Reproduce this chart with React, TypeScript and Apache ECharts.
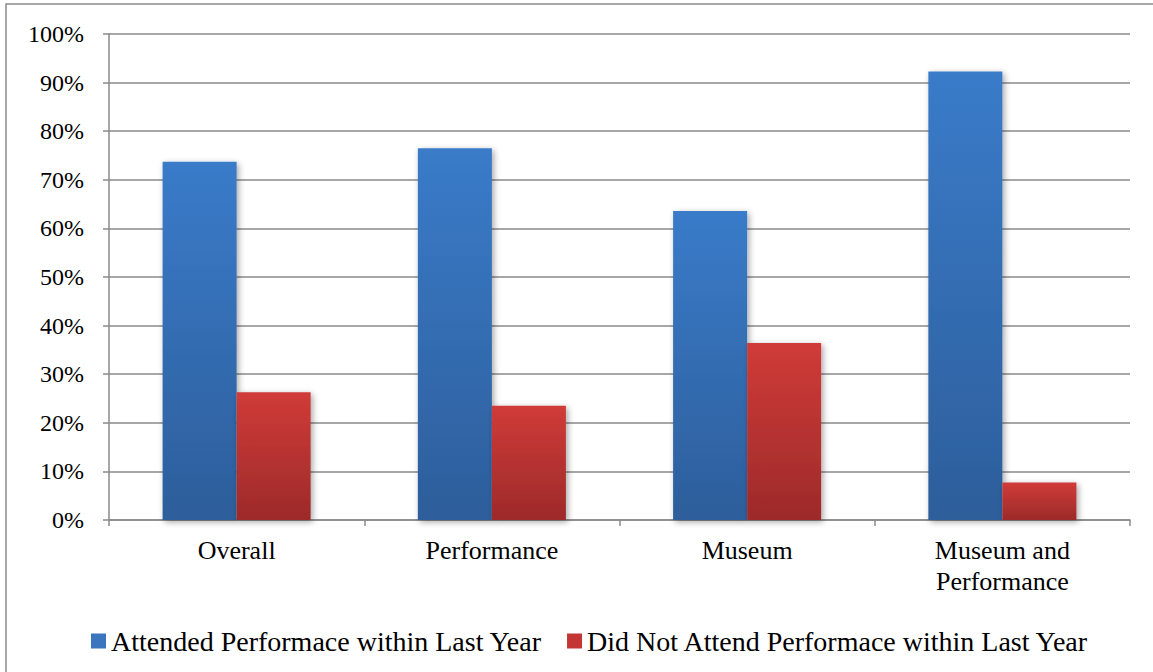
import React, { useEffect, useRef } from "react";
import * as echarts from "echarts";

const categories = ["Overall", "Performance", "Museum", "Museum and\nPerformance"];
const attended = [73.7, 76.5, 63.6, 92.3];
const notAttended = [26.3, 23.5, 36.4, 7.7];
const seriesNames = [
  "Attended Performace within Last Year",
  "Did Not Attend Performace within Last Year",
];

const FONT = "'Liberation Serif', 'Times New Roman', serif";
const AXIS_GRAY = "#8a8a8a";

const gradient = (top: string, bottom: string) =>
  new echarts.graphic.LinearGradient(0, 0, 0, 1, [
    { offset: 0, color: top },
    { offset: 1, color: bottom },
  ]);

export default function App() {
  const ref = useRef<HTMLDivElement>(null);

  useEffect(() => {
    if (!ref.current) return;
    const chart = echarts.init(ref.current, undefined, { renderer: "svg" });
    const barShadow = {
      shadowBlur: 6,
      shadowColor: "rgba(0,0,0,0.35)",
      shadowOffsetX: 2,
      shadowOffsetY: 2,
    };
    chart.setOption({
      animation: false,
      textStyle: { fontFamily: FONT, color: "#000" },
      graphic: [
        {
          type: "rect",
          shape: { x: 6, y: 4, width: 1170, height: 700 },
          style: { fill: "none", stroke: AXIS_GRAY, lineWidth: 1.5 },
          silent: true,
          z: -1,
        },
      ],
      grid: { left: 109, right: 23, top: 34, bottom: 152 },
      legend: {
        left: 86,
        top: 622,
        itemWidth: 15,
        itemHeight: 15,
        itemGap: 25,
        icon: "rect",
        textStyle: { fontFamily: FONT, fontSize: 28, color: "#000" },
        data: [
          { name: seriesNames[0], itemStyle: { color: "#3a75bd" } },
          { name: seriesNames[1], itemStyle: { color: "#c33634" } },
        ],
      },
      xAxis: {
        type: "category",
        data: categories,
        axisLine: { lineStyle: { color: AXIS_GRAY, width: 1.5 } },
        axisTick: { show: true, length: 6, lineStyle: { color: AXIS_GRAY, width: 1.5 } },
        axisLabel: {
          fontFamily: FONT,
          fontSize: 26,
          color: "#000",
          margin: 15,
          lineHeight: 31,
          interval: 0,
        },
      },
      yAxis: {
        type: "value",
        min: 0,
        max: 100,
        interval: 10,
        axisLine: { show: true, lineStyle: { color: AXIS_GRAY, width: 1.5 } },
        axisTick: { show: true, length: 6, lineStyle: { color: AXIS_GRAY, width: 1.5 } },
        splitLine: { lineStyle: { color: AXIS_GRAY, width: 1.5 } },
        axisLabel: {
          fontFamily: FONT,
          fontSize: 24,
          color: "#000",
          margin: 25,
          formatter: "{value}%",
        },
      },
      series: [
        {
          name: seriesNames[0],
          type: "bar",
          data: attended,
          barGap: "0%",
          barCategoryGap: "42%",
          itemStyle: { color: gradient("#3a7bc9", "#2d5e9b"), ...barShadow },
        },
        {
          name: seriesNames[1],
          type: "bar",
          data: notAttended,
          itemStyle: { color: gradient("#d03b38", "#9d2a2a"), ...barShadow },
        },
      ],
    });
    return () => chart.dispose();
  }, []);

  return (
    <div
      ref={ref}
      style={{ position: "fixed", left: 0, top: 0, width: 1153, height: 672, background: "#fff" }}
    />
  );
}
